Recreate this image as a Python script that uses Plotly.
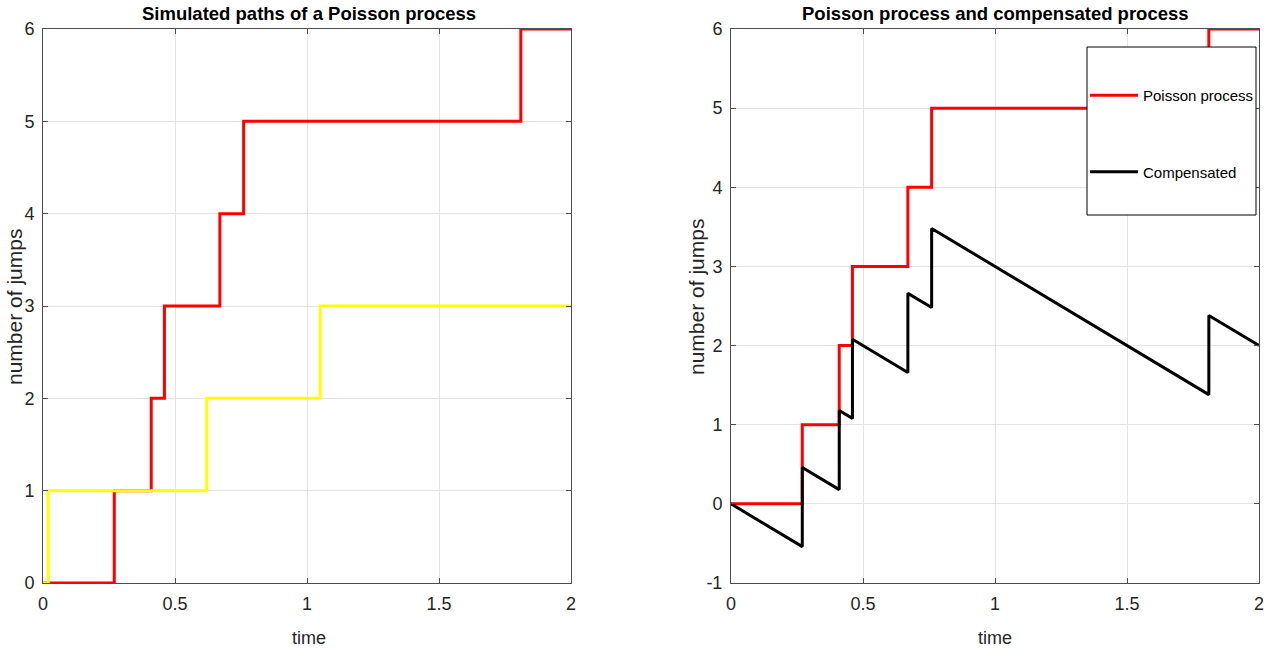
import plotly.graph_objects as go

# Jump times of the two simulated Poisson paths (intensity 2 on [0, 2])
red_t = [0, 0.27, 0.41, 0.46, 0.67, 0.76, 1.81, 2]
red_n = [0, 1, 2, 3, 4, 5, 6, 6]
yellow_t = [0, 0.02, 0.62, 1.05, 2]
yellow_n = [0, 1, 2, 3, 3]

# Compensated process N(t) - 2t, sampled just before and after each jump
comp_t = [0, 0.27, 0.27, 0.41, 0.41, 0.46, 0.46, 0.67, 0.67, 0.76, 0.76, 1.81, 1.81, 2]
comp_v = [0, -0.54, 0.46, 0.18, 1.18, 1.08, 2.08, 1.66, 2.66, 2.48, 3.48, 1.38, 2.38, 2.0]

x_ticks = [0, 0.5, 1, 1.5, 2]
x_labels = ["0", "0.5", "1", "1.5", "2"]
y1_ticks = [0, 1, 2, 3, 4, 5, 6]
y2_ticks = [-1, 0, 1, 2, 3, 4, 5, 6]
y2_labels = ["-1", "0", "1", "2", "3", "4", "5", "6"]

W, H = 1285, 657
FONT = "Liberation Sans, Arial, Helvetica"
TXT = "#262626"
AXC = "#4d4d4d"
GRID = "#e3e3e3"


def px(x):
    return x / W


def py(y):
    return 1 - y / H


fig = go.Figure()

# Left panel
fig.add_trace(go.Scatter(x=red_t, y=red_n, mode="lines", line=dict(color="#ff0000", width=3, shape="hv"),
                         xaxis="x", yaxis="y", showlegend=False))
fig.add_trace(go.Scatter(x=yellow_t, y=yellow_n, mode="lines", line=dict(color="#ffff00", width=3, shape="hv"),
                         xaxis="x", yaxis="y", showlegend=False))

# Right panel
fig.add_trace(go.Scatter(x=red_t, y=red_n, mode="lines", name="Poisson process", legendgroup="a",
                         line=dict(color="#ff0000", width=3, shape="hv"), xaxis="x2", yaxis="y2"))
fig.add_trace(go.Scatter(x=comp_t, y=comp_v, mode="lines", name="Compensated", legendgroup="b",
                         line=dict(color="#000000", width=3), xaxis="x2", yaxis="y2"))

axis_common = dict(showline=True, linecolor=AXC, linewidth=1, mirror="allticks", ticks="inside",
                   ticklen=5, tickcolor=AXC, showgrid=True, gridcolor=GRID, gridwidth=1,
                   zeroline=False, tickfont=dict(family=FONT, size=18, color=TXT), automargin=False)

fig.update_layout(
    width=W, height=H,
    margin=dict(l=0, r=0, t=0, b=0),
    paper_bgcolor="white", plot_bgcolor="white",
    xaxis=dict(domain=[px(43), px(571)], range=[0, 2], tickvals=x_ticks, ticktext=x_labels,
               anchor="y", ticklabelstandoff=4, **axis_common),
    yaxis=dict(domain=[py(583), py(29)], range=[0, 6], tickvals=y1_ticks,
               anchor="x", ticklabelstandoff=4, **axis_common),
    xaxis2=dict(domain=[px(731), px(1259)], range=[0, 2], tickvals=x_ticks, ticktext=x_labels,
                anchor="y2", ticklabelstandoff=4, **axis_common),
    yaxis2=dict(domain=[py(583), py(29)], range=[-1, 6], tickvals=y2_ticks, ticktext=y2_labels,
                anchor="x2", ticklabelstandoff=4, **axis_common),
    legend=dict(x=px(1085), y=py(79), xanchor="left", yanchor="top", bgcolor="rgba(0,0,0,0)",
                borderwidth=0, tracegroupgap=54, itemwidth=48,
                font=dict(family=FONT, size=15, color="#000000")),
    shapes=[dict(type="rect", xref="paper", yref="paper", x0=px(1087), x1=px(1256),
                 y0=py(215), y1=py(47), line=dict(color="#000000", width=1),
                 fillcolor="white", layer="above")],
)

ann = []
for cx, title in [(309, "Simulated paths of a Poisson process"), (995, "Poisson process and compensated process")]:
    ann.append(dict(x=px(cx), y=py(13), xref="paper", yref="paper", text=f"<b>{title}</b>", showarrow=False,
                    xanchor="center", yanchor="middle", font=dict(family=FONT, size=18.5, color="#000000")))
    ann.append(dict(x=px(cx), y=py(638), xref="paper", yref="paper", text="time", showarrow=False,
                    xanchor="center", yanchor="middle", font=dict(family=FONT, size=18, color=TXT)))
for lx, ly in [(15, 307), (696, 297)]:
    ann.append(dict(x=px(lx), y=py(ly), xref="paper", yref="paper", text="number of jumps", showarrow=False,
                    textangle=-90, xanchor="center", yanchor="middle",
                    font=dict(family=FONT, size=21, color=TXT)))
fig.update_layout(annotations=ann)

fig.write_html("out.html")
